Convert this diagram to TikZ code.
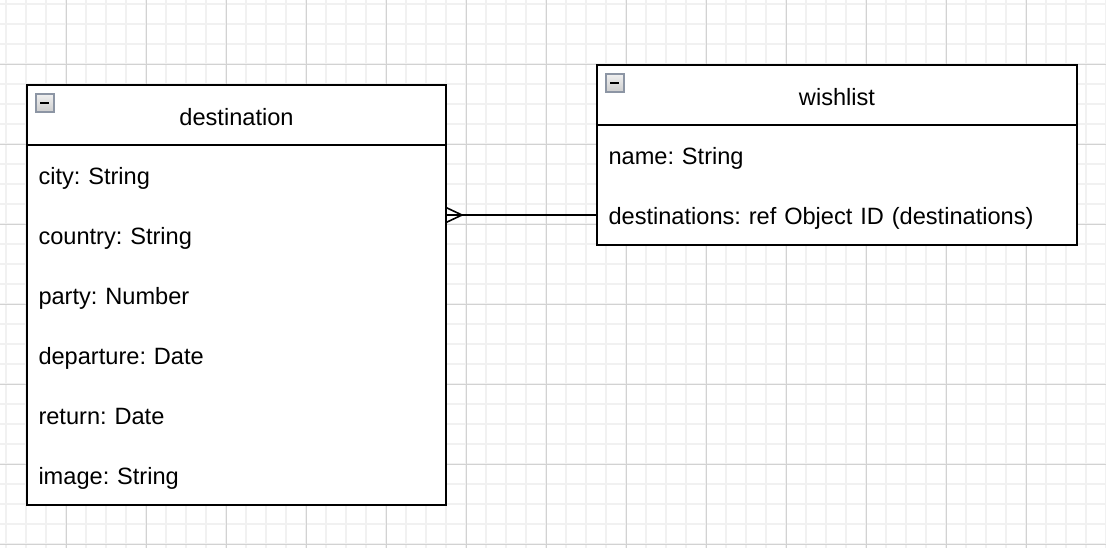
\documentclass[tikz,border=0pt]{standalone}
\usepackage{fontspec}
\setmainfont{Liberation Sans}
\usetikzlibrary{positioning}
\definecolor{gridminor}{HTML}{F1F1F1}
\definecolor{gridmajor}{HTML}{D2D2D2}
\definecolor{iconframe}{HTML}{8C95A4}
\frenchspacing

\tikzset{
  every node/.style={outer sep=0pt},
  tabhead/.style={draw=black, line width=0.8pt, fill=white, minimum height=30pt,
    inner sep=0pt, text height=11pt, text depth=1pt, anchor=north west,
    font=\fontsize{11.8}{14}\selectfont},
  tabbody/.style={draw=black, line width=0.8pt, fill=white, inner sep=0pt, anchor=north west},
  tabrow/.style={minimum height=30pt, text width=#1, align=left, inner xsep=5.75pt,
    inner ysep=0pt, text height=10.5pt, text depth=1.5pt, anchor=north west,
    font=\fontsize{11.8}{14}\selectfont},
  minusicon/.style={draw=iconframe, line width=0.9pt, top color=gray!12, bottom color=gray!38,
    minimum size=8.8pt, inner sep=0pt, anchor=north west,
    path picture={\draw[black, line width=1pt]
      ([xshift=2.2pt]path picture bounding box.west) -- ([xshift=-2.2pt]path picture bounding box.east);}}
}

\begin{document}
\begin{tikzpicture}[x=0.5pt, y=-0.5pt]
\useasboundingbox (0,0) rectangle (1106,548);

% grille
\foreach \gx in {6,26,...,1106}
  \draw[gridminor, line width=1pt] (\gx,0) -- (\gx,548);
\foreach \gy in {4,24,...,548}
  \draw[gridminor, line width=1pt] (0,\gy) -- (1106,\gy);
\foreach \gx in {66,146,...,1106}
  \draw[gridmajor, line width=0.5pt] (\gx,0) -- (\gx,548);
\foreach \gy in {64,144,...,548}
  \draw[gridmajor, line width=0.5pt] (0,\gy) -- (1106,\gy);

% destination
\node[tabhead, minimum width=209.5pt] (dest) at (27,85) {destination};
\node[tabbody, minimum width=209.5pt, minimum height=180pt] (destbody) at (dest.south west) {};
\node[minusicon] (desticon) at ([shift={(4.5pt,-4.5pt)}]dest.north west) {};
\node[tabrow=198pt] (city) at (destbody.north west) {city: String};
\node[tabrow=198pt, below=0pt of city] (country) {country: String};
\node[tabrow=198pt, below=0pt of country] (party) {party: Number};
\node[tabrow=198pt, below=0pt of party] (departure) {departure: Date};
\node[tabrow=198pt, below=0pt of departure] (return) {return: Date};
\node[tabrow=198pt, below=0pt of return] (image) {image: String};

% wishlist
\node[tabhead, minimum width=240pt] (wish) at (597,65) {wishlist};
\node[tabbody, minimum width=240pt, minimum height=60pt] (wishbody) at (wish.south west) {};
\node[minusicon] (wishicon) at ([shift={(4.5pt,-4.5pt)}]wish.north west) {};
\node[tabrow=228.5pt] (name) at (wishbody.north west) {name: String};
\node[tabrow=228.5pt, below=0pt of name] (dests) {destinations: ref Object ID (destinations)};

% relation
\draw[line width=0.8pt] (dests.west) -- (dests.west -| destbody.east);
\path (dests.west -| destbody.east) ++(16,0) coordinate (crow);
\draw[line width=0.8pt] (crow) -- ++(-16,-7.5);
\draw[line width=0.8pt] (crow) -- ++(-16,7.5);
\end{tikzpicture}
\end{document}
